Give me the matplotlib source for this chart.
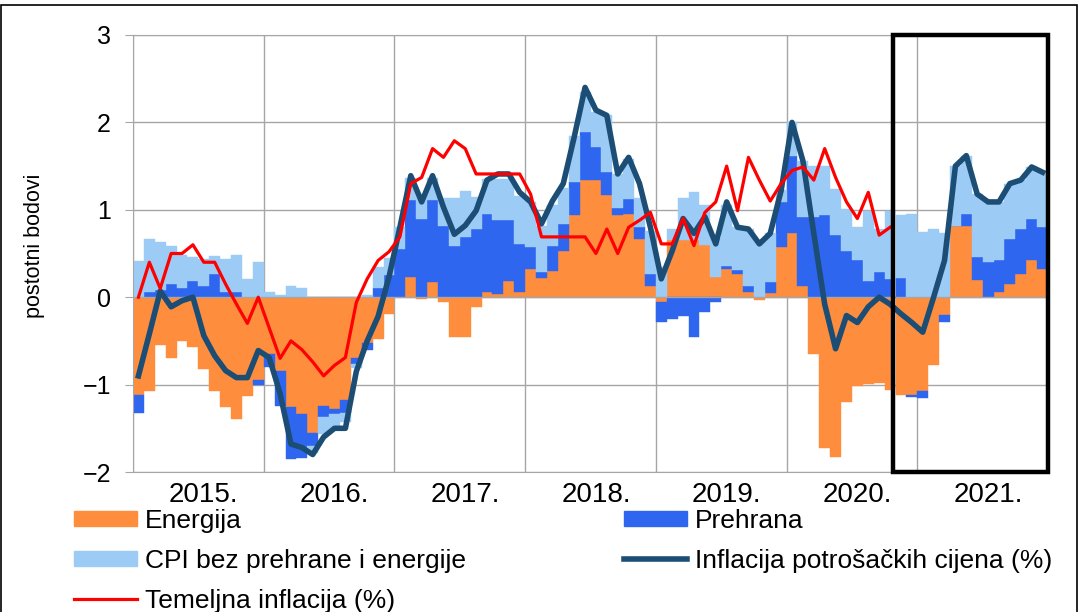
import numpy as np
import matplotlib
matplotlib.use("Agg")
import matplotlib.pyplot as plt
from matplotlib.patches import Rectangle, Patch
from matplotlib.lines import Line2D

plt.rcParams['font.family'] = ['Liberation Sans', 'DejaVu Sans']

years = [2015, 2016, 2017, 2018, 2019, 2020, 2021]
year_labels = [str(y) + "." for y in years]

# monthly contributions, percentage points (Jan 2015 - Dec 2021)
energija = [-1.12, -1.07, -0.55, -0.70, -0.50, -0.57, -0.82, -1.07, -1.26, -1.39, -1.13, -0.95,
            -0.65, -0.84, -1.26, -1.34, -1.55, -1.24, -1.28, -1.18, -0.70, -0.52, -0.48, -0.19,
            0.00, 0.23, -0.02, 0.17, -0.06, -0.46, -0.46, -0.11, 0.06, 0.04, 0.19, 0.06,
            0.32, 0.22, 0.30, 0.53, 0.94, 1.34, 1.34, 1.17, 0.94, 0.95, 0.67, 0.13,
            -0.05, 0.65, 0.65, 0.65, 0.60, 0.23, 0.32, 0.27, 0.06, -0.03, 0.05, 0.57,
            0.73, 0.13, -0.65, -1.72, -1.83, -1.20, -1.02, -0.99, -0.98, -1.06, -1.12, -1.12,
            -1.07, -0.78, -0.20, 0.82, 0.82, 0.20, 0.00, 0.06, 0.15, 0.27, 0.42, 0.32]

prehrana = [-0.20, 0.06, 0.08, 0.15, 0.11, 0.19, 0.13, 0.26, 0.06, 0.06, 0.00, -0.05,
            -0.15, -0.40, -0.59, -0.50, -0.15, -0.13, -0.06, -0.15, -0.06, -0.08, 0.10, 0.25,
            0.55, 0.88, 0.90, 0.94, 0.82, 0.59, 0.69, 0.78, 0.89, 0.84, 0.69, 0.55,
            0.25, 0.07, 0.29, 0.31, 0.38, 0.55, 0.38, 0.26, 0.08, 0.17, 0.13, 0.13,
            -0.23, -0.25, -0.21, -0.46, -0.17, -0.06, 0.04, 0.04, 0.07, 0.00, 0.12, 0.52,
            0.89, 0.79, 0.92, 0.94, 0.71, 0.53, 0.42, 0.19, 0.29, 0.21, 0.22, -0.02,
            -0.08, 0.00, -0.08, 0.00, 0.13, 0.26, 0.40, 0.36, 0.52, 0.51, 0.48, 0.48]

cpi_bez = [0.41, 0.61, 0.55, 0.44, 0.37, 0.27, 0.31, 0.21, 0.38, 0.42, 0.21, 0.40,
           0.06, 0.03, 0.13, 0.11, -0.08, -0.19, -0.17, -0.10, -0.05, 0.02, 0.25, 0.20,
           0.25, 0.25, 0.28, 0.25, 0.31, 0.54, 0.53, 0.37, 0.40, 0.47, 0.47, 0.55,
           0.52, 0.53, 0.46, 0.41, 0.53, 0.46, 0.40, 0.65, 0.39, 0.46, 0.33, 0.50,
           0.35, 0.13, 0.48, 0.55, 0.45, 0.45, 0.70, 0.49, 0.65, 0.64, 0.56, 0.14,
           0.38, 0.64, 0.58, 0.56, 0.53, 0.48, 0.38, 0.80, 0.49, 0.78, 0.72, 0.95,
           0.75, 0.78, 0.74, 0.68, 0.67, 0.72, 0.69, 0.67, 0.63, 0.56, 0.59, 0.63]

# headline CPI inflation (%)
inflacija = [-0.90, -0.42, 0.07, -0.11, -0.04, 0.00, -0.44, -0.67, -0.84, -0.92, -0.92, -0.61,
             -0.69, -1.10, -1.68, -1.72, -1.80, -1.60, -1.50, -1.50, -0.85, -0.50, -0.22, 0.23,
             0.80, 1.39, 1.09, 1.39, 1.03, 0.72, 0.82, 0.99, 1.34, 1.41, 1.41, 1.20,
             1.09, 0.84, 1.10, 1.30, 1.83, 2.40, 2.14, 2.08, 1.41, 1.60, 1.30, 0.80,
             0.21, 0.53, 0.90, 0.73, 0.92, 0.61, 1.09, 0.80, 0.78, 0.61, 0.73, 1.22,
             2.00, 1.56, 0.73, -0.08, -0.59, -0.21, -0.29, -0.11, 0.00, -0.08, -0.19, -0.29,
             -0.40, 0.00, 0.42, 1.50, 1.62, 1.18, 1.09, 1.09, 1.30, 1.34, 1.49, 1.43]

# core inflation (%), Jan 2015 - Oct 2020
temeljna = [0.00, 0.40, 0.10, 0.50, 0.50, 0.60, 0.40, 0.40, 0.15, -0.08, -0.30, 0.00,
            -0.35, -0.70, -0.50, -0.60, -0.74, -0.90, -0.78, -0.69, -0.06, 0.21, 0.42, 0.52,
            0.69, 1.30, 1.37, 1.70, 1.60, 1.79, 1.70, 1.41, 1.41, 1.41, 1.41, 1.41,
            1.18, 0.69, 0.69, 0.69, 0.69, 0.69, 0.50, 0.78, 0.50, 0.80, 0.88, 0.97,
            0.61, 0.61, 0.90, 0.59, 0.97, 1.09, 1.50, 0.99, 1.60, 1.34, 1.10, 1.30,
            1.45, 1.49, 1.34, 1.70, 1.37, 1.09, 0.90, 1.20, 0.71, 0.80]

c_energ = "#FF8D3E"
c_preh = "#2F66F0"
c_cpi = "#9CCBF6"
c_infl = "#1C4D74"
c_tem = "#FF0000"
c_grid = "#A6A6A6"

fig = plt.figure(figsize=(10.81, 6.12), dpi=100)
ax = fig.add_axes([133/1081, 1 - 472/612, (1048 - 133)/1081, (472 - 35)/612])

n = len(energija)
x = np.arange(n) + 0.5

pos = np.zeros(n)
neg = np.zeros(n)
for vals, col in [(energija, c_energ), (prehrana, c_preh), (cpi_bez, c_cpi)]:
    v = np.array(vals)
    bottom = np.where(v >= 0, pos, neg)
    ax.bar(x, v, bottom=bottom, width=1.0, color=col, edgecolor=col, linewidth=0.3, zorder=2)
    pos = pos + np.clip(v, 0, None)
    neg = neg + np.clip(v, None, 0)

ax.axhline(0, color=c_grid, lw=1.0, zorder=3)
ax.plot(x, inflacija, color=c_infl, lw=4.0, zorder=4)
ax.plot(x[:len(temeljna)], temeljna, color=c_tem, lw=2.3, zorder=5)

ax.set_xlim(0, n)
ax.set_ylim(-2, 3)
ax.set_yticks(range(-2, 4))
ax.set_xticks(np.arange(len(years)) * 12 + 6.5)
ax.set_xticklabels(year_labels)
ax.set_xticks(np.arange(len(years) + 1) * 12, minor=True)
ax.grid(True, which='major', axis='y', color=c_grid, lw=1.0)
ax.grid(True, which='minor', axis='x', color=c_grid, lw=1.0)
ax.set_axisbelow(True)
ax.tick_params(axis='x', which='both', length=0, pad=7, labelsize=20)
ax.tick_params(axis='y', length=6, color=c_grid, pad=10, labelsize=18)
for s in ax.spines.values():
    s.set_color(c_grid)
ax.set_ylabel("postotni bodovi", fontsize=15.5)
ax.yaxis.set_label_coords(-0.096, 0.517)

# highlight box for the forecast period
ax.add_patch(Rectangle((len(temeljna) - 0.2, -2), n - len(temeljna) + 0.2, 5, fill=False,
                       edgecolor='black', lw=3.2, zorder=6, clip_on=False))

# figure frame
fig.add_artist(Rectangle((1/1081, -0.05), 1076/1081, 1.05 - 5/612, fill=False,
                         edgecolor='black', lw=1.2, transform=fig.transFigure))

leg_kw = dict(frameon=False, fontsize=19, handlelength=2.4, handleheight=0.5,
              handletextpad=0.3, labelspacing=0.6, borderpad=0, borderaxespad=0)
left = [Patch(color=c_energ), Patch(color=c_cpi), Line2D([], [], color=c_tem, lw=2.3)]
fig.legend(left, ["Energija", "CPI bez prehrane i energije", "Temeljna inflacija (%)"],
           loc='upper left', bbox_to_anchor=(74/1081, 1 - 509/612), **leg_kw)
right = [Patch(color=c_preh), Line2D([], [], color=c_infl, lw=4.0)]
fig.legend(right, ["Prehrana", "Inflacija potrošačkih cijena (%)"],
           loc='upper left', bbox_to_anchor=(624/1081, 1 - 509/612), **leg_kw)

fig.savefig("out.png", dpi=100)
